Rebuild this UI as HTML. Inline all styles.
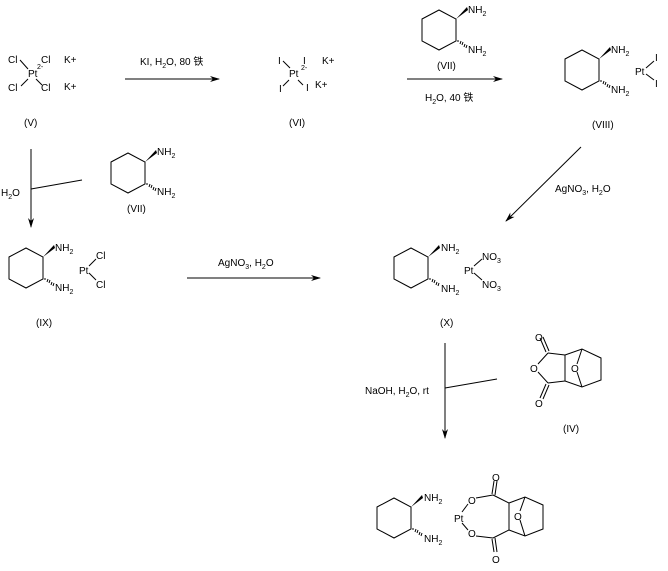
<!DOCTYPE html>
<html><head><meta charset="utf-8"><style>
html,body{margin:0;padding:0;background:#fff;}
svg{display:block;font-family:"Liberation Sans","Noto Sans CJK SC",sans-serif;font-size:10px;}
text{fill:#000;}
.s{font-size:7px;}
</style></head><body>
<svg width="668" height="571" viewBox="0 0 668 571" xmlns="http://www.w3.org/2000/svg">
<defs>
<g id="hex">
<polygon points="0,0 17,-9 34,0 34,22 17,31 0,22" fill="none" stroke="#000" stroke-width="1"/>
<polygon points="34,0 45,-12 46,-9" fill="#000"/>
<g stroke="#000" stroke-width="1">
<line x1="36" y1="23" x2="36" y2="21"/><line x1="38" y1="25" x2="39" y2="22"/><line x1="40" y1="26" x2="41" y2="23"/><line x1="42" y1="28" x2="43" y2="25"/><line x1="44" y1="29" x2="45" y2="26"/>
</g>
</g>
<marker id="ar" markerWidth="10" markerHeight="8" refX="9" refY="4" orient="auto" markerUnits="userSpaceOnUse"><path d="M0,1 L10,4 L0,7 L3,4 Z" fill="#000"/></marker>
</defs>

<!-- V -->
<text x="8" y="63">Cl</text><text x="41" y="63">Cl</text>
<text x="28" y="77">Pt</text><text x="37" y="69" class="s">2-</text>
<text x="8" y="91">Cl</text><text x="41" y="91">Cl</text>
<line x1="20" y1="60" x2="28" y2="69" stroke="#000"/><line x1="21" y1="86" x2="28" y2="79" stroke="#000"/><line x1="36" y1="79" x2="42" y2="85" stroke="#000"/>
<text x="64" y="63">K+</text><text x="64" y="90">K+</text>
<text x="24" y="126">(V)</text>

<!-- arrow 1 -->
<line x1="125" y1="79" x2="219" y2="79" stroke="#000" marker-end="url(#ar)"/>
<text x="140" y="65">KI, H<tspan class="s" dy="3">2</tspan><tspan dy="-3">O, 80 铁</tspan></text>

<!-- VI -->
<text x="278" y="64">I</text><text x="303" y="64">I</text>
<text x="289" y="77">Pt</text><text x="301" y="70" class="s">2-</text>
<text x="279" y="92">I</text><text x="306" y="91">I</text>
<line x1="283" y1="61" x2="290" y2="68" stroke="#000"/><line x1="283" y1="86" x2="289" y2="80" stroke="#000"/><line x1="298" y1="80" x2="303" y2="85" stroke="#000"/>
<text x="322" y="64">K+</text><text x="315" y="88">K+</text>
<text x="289" y="126">(VI)</text>

<!-- VII top -->
<use href="#hex" x="422" y="19"/>
<text x="468" y="13">NH<tspan class="s" dy="3">2</tspan></text>
<text x="468" y="53">NH<tspan class="s" dy="3">2</tspan></text>
<text x="437" y="69">(VII)</text>
<line x1="407" y1="79" x2="502" y2="79" stroke="#000" marker-end="url(#ar)"/>
<text x="425" y="101">H<tspan class="s" dy="3">2</tspan><tspan dy="-3">O, 40 铁</tspan></text>

<!-- VIII -->
<use href="#hex" x="565" y="59"/>
<text x="611" y="53">NH<tspan class="s" dy="3">2</tspan></text>
<text x="611" y="93">NH<tspan class="s" dy="3">2</tspan></text>
<text x="635" y="75">Pt</text>
<text x="655" y="61">I</text><text x="655" y="87">I</text>
<line x1="646" y1="68" x2="654" y2="61" stroke="#000"/><line x1="646" y1="74" x2="654" y2="80" stroke="#000"/>
<text x="592" y="128">(VIII)</text>

<!-- diagonal arrow -->
<line x1="581" y1="147" x2="506" y2="221" stroke="#000" marker-end="url(#ar)"/>
<text x="555" y="192">AgNO<tspan class="s" dy="3">3</tspan><tspan dy="-3">, H</tspan><tspan class="s" dy="3">2</tspan><tspan dy="-3">O</tspan></text>

<!-- left vertical arrow -->
<line x1="31" y1="149" x2="31" y2="227" stroke="#000" marker-end="url(#ar)"/>
<line x1="31" y1="189" x2="82" y2="180" stroke="#000"/>
<text x="1" y="196">H<tspan class="s" dy="3">2</tspan><tspan dy="-3">O</tspan></text>
<use href="#hex" x="111" y="162"/>
<text x="157" y="155">NH<tspan class="s" dy="3">2</tspan></text>
<text x="157" y="195">NH<tspan class="s" dy="3">2</tspan></text>
<text x="127" y="212">(VII)</text>

<!-- IX -->
<use href="#hex" x="9" y="257"/>
<text x="55" y="251">NH<tspan class="s" dy="3">2</tspan></text>
<text x="55" y="291">NH<tspan class="s" dy="3">2</tspan></text>
<text x="79" y="274">Pt</text>
<text x="96" y="259">Cl</text><text x="96" y="288">Cl</text>
<line x1="89" y1="266" x2="96" y2="259" stroke="#000"/><line x1="89" y1="273" x2="96" y2="280" stroke="#000"/>
<text x="36" y="326">(IX)</text>

<!-- middle arrow -->
<line x1="187" y1="278" x2="320" y2="278" stroke="#000" marker-end="url(#ar)"/>
<text x="218" y="266">AgNO<tspan class="s" dy="3">3</tspan><tspan dy="-3">, H</tspan><tspan class="s" dy="3">2</tspan><tspan dy="-3">O</tspan></text>

<!-- X -->
<use href="#hex" x="394" y="257"/>
<text x="441" y="251">NH<tspan class="s" dy="3">2</tspan></text>
<text x="441" y="292">NH<tspan class="s" dy="3">2</tspan></text>
<text x="464" y="274">Pt</text>
<text x="482" y="260">NO<tspan class="s" dy="3">3</tspan></text>
<text x="482" y="288">NO<tspan class="s" dy="3">3</tspan></text>
<line x1="474" y1="266" x2="482" y2="259" stroke="#000"/><line x1="474" y1="273" x2="482" y2="280" stroke="#000"/>
<text x="440" y="326">(X)</text>

<!-- lower vertical arrow -->
<line x1="445" y1="343" x2="445" y2="438" stroke="#000" marker-end="url(#ar)"/>
<line x1="445" y1="388" x2="497" y2="379" stroke="#000"/>
<text x="365" y="394">NaOH, H<tspan class="s" dy="3">2</tspan><tspan dy="-3">O, rt</tspan></text>

<!-- IV anhydride -->
<g stroke="#000" fill="none">
<line x1="540" y1="338" x2="546" y2="352"/><line x1="543" y1="337" x2="549" y2="351"/>
<line x1="548" y1="353" x2="538" y2="364"/>
<line x1="538" y1="372" x2="548" y2="383"/>
<line x1="546" y1="384" x2="540" y2="398"/><line x1="549" y1="385" x2="543" y2="399"/>
<line x1="548" y1="353" x2="565" y2="355"/><line x1="548" y1="383" x2="565" y2="381"/>
<polyline points="565,355 582,349 601,358 601,380 582,387 565,381 565,355"/>
<line x1="582" y1="349" x2="577" y2="364"/><line x1="577" y1="372" x2="582" y2="387"/>
</g>
<text x="535" y="341">O</text><text x="530" y="372">O</text><text x="571" y="372">O</text><text x="535" y="407">O</text>
<text x="563" y="432">(IV)</text>

<!-- final product -->
<use href="#hex" x="377" y="507"/>
<text x="424" y="501">NH<tspan class="s" dy="3">2</tspan></text>
<text x="424" y="542">NH<tspan class="s" dy="3">2</tspan></text>
<text x="454" y="522">Pt</text>
<g stroke="#000" fill="none">
<line x1="462" y1="512" x2="468" y2="504"/><line x1="462" y1="523" x2="468" y2="530"/>
<line x1="476" y1="498" x2="493" y2="495"/><line x1="476" y1="536" x2="493" y2="538"/>
<line x1="492" y1="494" x2="494" y2="481"/><line x1="495" y1="495" x2="497" y2="481"/>
<line x1="492" y1="539" x2="494" y2="552"/><line x1="495" y1="538" x2="497" y2="552"/>
<line x1="493" y1="495" x2="509" y2="503"/><line x1="493" y1="538" x2="509" y2="530"/>
<polyline points="509,503 525,497 543,505 543,529 525,536 509,530 509,503"/>
<line x1="525" y1="497" x2="520" y2="511"/><line x1="520" y1="520" x2="525" y2="536"/>
</g>
<text x="492" y="481">O</text><text x="468" y="504">O</text><text x="514" y="520">O</text><text x="468" y="537">O</text><text x="492" y="563">O</text>
</svg>
</body></html>
